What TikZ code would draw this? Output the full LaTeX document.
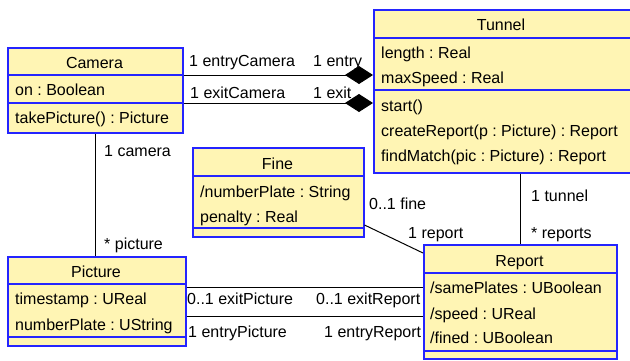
\documentclass[tikz,border=0pt]{standalone}
\usepackage{fontspec}
\setmainfont{Liberation Sans}
\usetikzlibrary{arrows.meta}
\frenchspacing
\definecolor{classfill}{HTML}{FFF5B4}
\definecolor{classline}{HTML}{2424FF}
\tikzset{
  classbox/.style={draw=classline, fill=classfill, line width=1.5pt, inner sep=0pt, anchor=north west},
  sepline/.style={draw=classline, line width=1.5pt},
  title/.style={inner sep=0pt, anchor=base},
  member/.style={inner sep=0pt, anchor=base west},
  role/.style={inner sep=0pt, anchor=base west},
  assoc/.style={draw=black, line width=1pt},
  compose/.style={assoc, -{Diamond[length=28pt,width=18pt,fill=black]}},
  every node/.style={font=\fontsize{16}{19}\selectfont}
}
\begin{document}
\begin{tikzpicture}[x=1pt,y=-1pt]
\useasboundingbox (0,0) rectangle (630,360);
\clip (0,0) rectangle (630,360);

% --- class boxes ---
\node[classbox, minimum width=175pt, minimum height=85pt] (camera) at (7,47) {};
\node[classbox, minimum width=262pt, minimum height=163pt] (tunnel) at (373,9) {};
\node[classbox, minimum width=171pt, minimum height=89pt] (fine) at (192,147) {};
\node[classbox, minimum width=178pt, minimum height=89pt] (picture) at (7,256) {};
\node[classbox, minimum width=193pt, minimum height=114pt] (report) at (423,244) {};

% --- compartments ---
\draw[sepline] (camera.west |- 0,75) -- (camera.east |- 0,75);
\draw[sepline] (camera.west |- 0,103) -- (camera.east |- 0,103);
\draw[sepline] (tunnel.west |- 0,38) -- (tunnel.east |- 0,38);
\draw[sepline] (tunnel.west |- 0,90) -- (tunnel.east |- 0,90);
\draw[sepline] (fine.west |- 0,176) -- (fine.east |- 0,176);
\draw[sepline] (fine.west |- 0,228) -- (fine.east |- 0,228);
\draw[sepline] (picture.west |- 0,284) -- (picture.east |- 0,284);
\draw[sepline] (picture.west |- 0,337) -- (picture.east |- 0,337);
\draw[sepline] (report.west |- 0,273) -- (report.east |- 0,273);
\draw[sepline] (report.west |- 0,351) -- (report.east |- 0,351);

% --- Camera ---
\node[title] (cameraT) at (94.5,68) {Camera};
\node[member] (cameraA1) at (15,95) {on : Boolean};
\node[member] (cameraO1) at (15,123) {takePicture() : Picture};

% --- Tunnel ---
\node[title] (tunnelT) at (501,30) {Tunnel};
\node[member] (tunnelA1) at (381,58) {length : Real};
\node[member] (tunnelA2) at (381,83) {maxSpeed : Real};
\node[member] (tunnelO1) at (381,111) {start()};
\node[member] (tunnelO2) at (381,136) {createReport(p : Picture) : Report};
\node[member] (tunnelO3) at (381,161) {findMatch(pic : Picture) : Report};

% --- Fine ---
\node[title] (fineT) at (277.5,169) {Fine};
\node[member] (fineA1) at (200,197) {/numberPlate : String};
\node[member] (fineA2) at (200,222) {penalty : Real};

% --- Picture ---
\node[title] (pictureT) at (96,277) {Picture};
\node[member] (pictureA1) at (15,304) {timestamp : UReal};
\node[member] (pictureA2) at (15,330) {numberPlate : UString};

% --- Report ---
\node[title] (reportT) at (519.5,266) {Report};
\node[member] (reportA1) at (430,293) {/samePlates : UBoolean};
\node[member] (reportA2) at (430,319) {/speed : UReal};
\node[member] (reportA3) at (430,343) {/fined : UBoolean};

% --- associations ---
\draw[compose] (camera.east |- 0,75) -- (tunnel.west |- 0,75);
\draw[compose] (camera.east |- 0,103) -- (tunnel.west |- 0,103);
\draw[assoc] (camera.south -| 95,0) -- (picture.north -| 95,0);
\draw[assoc] (tunnel.south -| 520,0) -- (report.north -| 520,0);
\draw[assoc] (fine.east |- 0,225) -- (report.west |- 0,253);
\draw[assoc] (picture.east |- 0,287) -- (report.west |- 0,287);
\draw[assoc] (picture.east |- 0,316) -- (report.west |- 0,316);

% --- role names and multiplicities ---
\node[role] (rEntryCam) at (189,66) {1 entryCamera};
\node[role] (rEntry) at (313,66) {1 entry};
\node[role] (rExitCam) at (190,98) {1 exitCamera};
\node[role] (rExit) at (313,98) {1 exit};
\node[role] (rCamera) at (104,156) {1 camera};
\node[role] (rPicture) at (104,249) {* picture};
\node[role] (rTunnel) at (531,201) {1 tunnel};
\node[role] (rReports) at (531,238) {* reports};
\node[role] (rFine) at (369,209) {0..1 fine};
\node[role] (rReport) at (408,238) {1 report};
\node[role] (rExitPic) at (187,304) {0..1 exitPicture};
\node[role] (rExitRep) at (316,304) {0..1 exitReport};
\node[role] (rEntryPic) at (188,337) {1 entryPicture};
\node[role] (rEntryRep) at (324,337) {1 entryReport};
\end{tikzpicture}
\end{document}
